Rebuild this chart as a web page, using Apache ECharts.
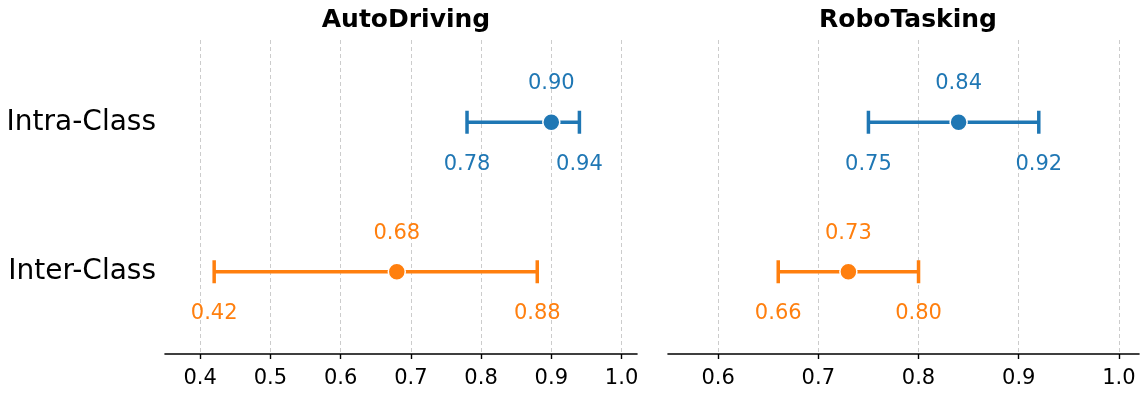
<!DOCTYPE html>
<html>
<head>
<meta charset="utf-8">
<script src="https://cdn.jsdelivr.net/npm/echarts@6/dist/echarts.min.js"></script>
<style>html,body{margin:0;padding:0;background:#fff}#c{width:1141px;height:393px}</style>
</head>
<body>
<div id="c"></div>
<script>
const categories = ['Inter-Class', 'Intra-Class'];
const panelTitles = ['AutoDriving', 'RoboTasking'];
const autoMean = [0.68, 0.90];
const autoLow = [0.42, 0.78];
const autoHigh = [0.88, 0.94];
const roboMean = [0.73, 0.84];
const roboLow = [0.66, 0.75];
const roboHigh = [0.80, 0.92];
const autoTicks = [0.4, 0.5, 0.6, 0.7, 0.8, 0.9, 1.0];
const roboTicks = [0.6, 0.7, 0.8, 0.9, 1.0];
const catColors = ['#ff7f0e', '#1f77b4'];

const FONT = 'DejaVu Sans';

function rows(mean, low, high) {
  return categories.map((c, i) => [i, low[i], mean[i], high[i]]);
}

function renderItem(params, api) {
  const yi = api.value(0);
  const lo = api.value(1), mu = api.value(2), hi = api.value(3);
  const pLo = api.coord([lo, yi]);
  const pMu = api.coord([mu, yi]);
  const pHi = api.coord([hi, yi]);
  const col = catColors[yi];
  const cap = 11.5;
  const lw = 3.5;
  const txt = (x, y, s) => ({
    type: 'text', x: x, y: y,
    style: { text: s, fill: col, font: '21px "' + FONT + '"', align: 'center', verticalAlign: 'middle' }
  });
  return {
    type: 'group',
    children: [
      { type: 'line', shape: { x1: pLo[0], y1: pLo[1], x2: pHi[0], y2: pHi[1] }, style: { stroke: col, lineWidth: lw } },
      { type: 'line', shape: { x1: pLo[0], y1: pLo[1] - cap, x2: pLo[0], y2: pLo[1] + cap }, style: { stroke: col, lineWidth: lw } },
      { type: 'line', shape: { x1: pHi[0], y1: pHi[1] - cap, x2: pHi[0], y2: pHi[1] + cap }, style: { stroke: col, lineWidth: lw } },
      { type: 'circle', shape: { cx: pMu[0], cy: pMu[1], r: 8.5 }, style: { fill: col, stroke: '#fff', lineWidth: 1.5 } },
      txt(pMu[0], pMu[1] - 38.5, mu.toFixed(2)),
      txt(pLo[0], pLo[1] + 42, lo.toFixed(2)),
      txt(pHi[0], pHi[1] + 42, hi.toFixed(2))
    ]
  };
}

function xAxisCfg(idx, min, max, ticks) {
  return {
    type: 'value', gridIndex: idx, min: min, max: max,
    axisLine: { show: true, onZero: false, lineStyle: { color: '#000', width: 1.6 } },
    axisTick: { show: true, length: 5, lineStyle: { color: '#000', width: 1.4 }, customValues: ticks },
    axisLabel: { customValues: ticks, color: '#000', fontSize: 21, fontFamily: FONT, margin: 14,
      formatter: v => Number(v).toFixed(1) },
    splitLine: { show: true, lineStyle: { color: '#cccccc', width: 1, type: [4, 3] } }
  };
}

function yAxisCfg(idx, showLabels) {
  return {
    type: 'value', gridIndex: idx, min: -0.55, max: 1.55,
    axisLine: { show: false }, axisTick: { show: false }, splitLine: { show: false },
    axisLabel: { show: showLabels, customValues: [0, 1], color: '#000', fontSize: 28, fontFamily: FONT, margin: 9,
      formatter: v => categories[Math.round(v)] }
  };
}

const chart = echarts.init(document.getElementById('c'), null, { renderer: 'canvas' });
chart.setOption({
  animation: false,
  title: [
    { text: panelTitles[0], left: 401, top: 3, textAlign: 'center',
      textStyle: { fontFamily: FONT, fontWeight: 'bold', fontSize: 25, color: '#000' } },
    { text: panelTitles[1], left: 903, top: 3, textAlign: 'center',
      textStyle: { fontFamily: FONT, fontWeight: 'bold', fontSize: 25, color: '#000' } }
  ],
  grid: [
    { left: 165, right: 504, top: 40, bottom: 39 },
    { left: 668, right: 2, top: 40, bottom: 39 }
  ],
  xAxis: [xAxisCfg(0, 0.35, 1.022, autoTicks), xAxisCfg(1, 0.55, 1.02, roboTicks)],
  yAxis: [yAxisCfg(0, true), yAxisCfg(1, false)],
  series: [
    { type: 'custom', xAxisIndex: 0, yAxisIndex: 0, renderItem: renderItem, data: rows(autoMean, autoLow, autoHigh), clip: false },
    { type: 'custom', xAxisIndex: 1, yAxisIndex: 1, renderItem: renderItem, data: rows(roboMean, roboLow, roboHigh), clip: false }
  ]
});
</script>
</body>
</html>
